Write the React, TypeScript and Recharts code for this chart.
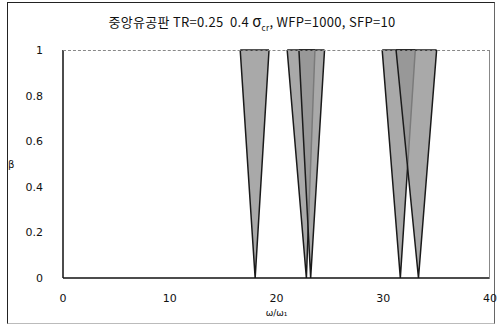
import { ComposedChart, Area, XAxis, YAxis } from 'recharts';

// instability wedges: left edge at beta=1, tip at beta=0, right edge at beta=1
const wedgeLeft = [16.6, 21.0, 22.1, 29.9, 31.2];
const wedgeTip = [18.0, 22.8, 23.2, 31.6, 33.3];
const wedgeRight = [19.3, 23.6, 24.5, 33.0, 35.0];

const xTicks = [0, 10, 20, 30, 40];
const yTicks = [0, 0.2, 0.4, 0.6, 0.8, 1];

const wedges = wedgeTip.map((tip, i) => [
  { x: wedgeLeft[i], r: [1, 1] },
  { x: tip, r: [0, 1] },
  { x: wedgeRight[i], r: [1, 1] },
]);

const font = '"DejaVu Sans", sans-serif';

export default function App() {
  return (
    <div style={{ position: 'relative', width: 500, height: 326, background: '#fff', fontFamily: font }}>
      <style>{'body{margin:0}'}</style>
      <div
        style={{
          position: 'absolute',
          left: 7,
          top: 2,
          width: 486,
          height: 320,
          borderLeft: '1px solid #222',
          borderTop: '1px solid #222',
          borderRight: '1px solid #666',
          borderBottom: '1px solid #bbb',
        }}
      />
      <div
        style={{
          position: 'absolute',
          left: 0,
          width: 504,
          top: 10,
          textAlign: 'center',
          fontSize: 13,
          letterSpacing: 0.3,
          color: '#111',
          fontFamily: '"Noto Sans CJK KR", "DejaVu Sans", sans-serif',
          whiteSpace: 'pre',
        }}
      >
        {'중앙유공판 TR=0.25  0.4 '}
        <span style={{ fontSize: 15 }}>σ</span>
        <sub style={{ fontSize: 8 }}>cr</sub>
        {', WFP=1000, SFP=10'}
      </div>
      <div style={{ position: 'absolute', left: 0, top: 0 }}>
        <ComposedChart width={500} height={326} margin={{ top: 50, right: 10, bottom: 8, left: 0 }}>
          <XAxis
            type="number"
            dataKey="x"
            domain={[0, 40]}
            ticks={xTicks}
            allowDataOverflow
            height={40}
            tickLine={false}
            tickSize={4}
            tickMargin={12}
            axisLine={{ stroke: '#111', strokeWidth: 1.5 }}
            tick={{ fontSize: 11, fill: '#111', fontFamily: font }}
            label={{ value: 'ω/ω₁', position: 'insideBottom', offset: 2, fontSize: 9, fill: '#111' }}
          />
          <YAxis
            type="number"
            domain={[0, 1]}
            ticks={yTicks}
            width={63}
            tickLine={false}
            tickSize={6}
            tickMargin={14}
            axisLine={{ stroke: '#111', strokeWidth: 1.5 }}
            tick={{ fontSize: 11, fill: '#111', fontFamily: font }}
            label={{ value: 'β', position: 'insideLeft', offset: 8, fontSize: 10, fill: '#111' }}
          />
          {wedges.map((w, i) => (
            <Area
              key={i}
              data={w}
              dataKey="r"
              type="linear"
              fill="#939393"
              fillOpacity={0.8}
              stroke="#1a1a1a"
              strokeWidth={1.5}
              dot={false}
              activeDot={false}
              isAnimationActive={false}
            />
          ))}
        </ComposedChart>
      </div>
      {/* plot frame: top and right edges */}
      <div
        style={{
          position: 'absolute',
          left: 63,
          top: 50,
          width: 426,
          height: 228,
          borderTop: '1px dashed #888',
          borderRight: '1px solid #888',
          pointerEvents: 'none',
        }}
      />
    </div>
  );
}
